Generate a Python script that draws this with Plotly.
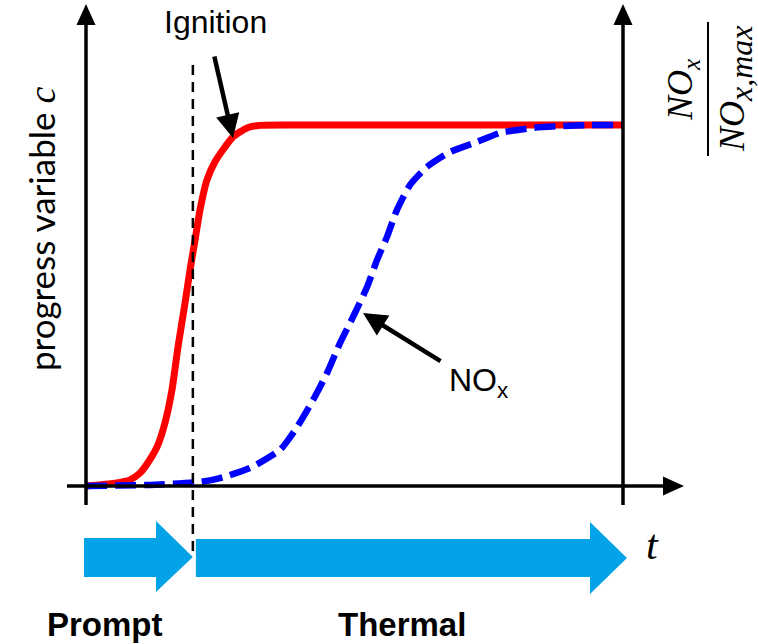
import plotly.graph_objects as go

# ---- data: progress variable c(t) and normalised NOx(t) ----
t_c = [0.0, 0.540, 0.819, 1.006, 1.099, 1.322, 1.471, 1.601, 1.713, 1.844,
       1.937, 2.030, 2.123, 2.253, 2.402, 2.588, 2.737, 2.998, 3.240, 3.985, 10.0]
c_vals = [0.0, 0.008, 0.017, 0.036, 0.053, 0.108, 0.175, 0.266, 0.385, 0.507,
          0.598, 0.681, 0.765, 0.848, 0.898, 0.939, 0.967, 0.992, 0.999, 1.0, 1.0]

t_nox = [0.0, 1.192, 2.123, 2.495, 3.054, 3.613, 3.761, 3.929, 4.227, 4.488,
         4.730, 4.972, 5.233, 5.419, 5.605, 5.791, 6.034, 6.350, 6.778, 7.281,
         7.709, 8.324, 8.827, 9.385, 10.0]
nox_vals = [0.0, 0.003, 0.011, 0.022, 0.050, 0.100, 0.127, 0.163, 0.238, 0.313,
            0.396, 0.468, 0.551, 0.626, 0.690, 0.765, 0.834, 0.884, 0.925, 0.953,
            0.978, 0.992, 0.997, 1.0, 1.0]

T_IGNITION = 1.99   # prompt / thermal boundary
T_END = 10.0

# ---- canvas geometry ----
W, H = 758, 644
T0_PX, T_SCALE = 86, 53.7      # pixel of t=0 and pixels per unit t
C0_PX, C_SCALE = 486, 361      # pixel of c=0 and pixels per unit c


def X(px):
    return (px - T0_PX) / T_SCALE


def Y(py):
    return (C0_PX - py) / C_SCALE


def poly(points):
    return "M " + " L ".join(f"{X(a)},{Y(b)}" for a, b in points) + " Z"


BLACK = "black"
ARROW_BLUE = "#04A3E7"
SANS = "Liberation Sans, Arial, sans-serif"
SERIF = "Liberation Serif, DejaVu Serif, serif"

fig = go.Figure()

fig.add_trace(go.Scatter(
    x=t_c, y=c_vals, mode="lines",
    line=dict(color="#FF0000", width=7, shape="spline", smoothing=0.6),
    hoverinfo="skip"))
fig.add_trace(go.Scatter(
    x=t_nox, y=nox_vals, mode="lines",
    line=dict(color="#0000FF", width=6.5, dash="21px,8px", shape="spline", smoothing=0.6),
    hoverinfo="skip"))

shapes = []
# axes with arrow heads
ax_w = 3.5
for xa in (0.0, T_END):
    px = T0_PX + xa * T_SCALE
    shapes.append(dict(type="line", x0=xa, x1=xa, y0=Y(505), y1=Y(22),
                       line=dict(color=BLACK, width=ax_w)))
    shapes.append(dict(type="path", path=poly([(px, 4), (px - 9.5, 25), (px + 9.5, 25)]),
                       fillcolor=BLACK, line=dict(width=0)))
shapes.append(dict(type="line", x0=X(67), x1=X(665), y0=0, y1=0,
                   line=dict(color=BLACK, width=ax_w)))
shapes.append(dict(type="path", path=poly([(684, C0_PX), (663, C0_PX - 9.5), (663, C0_PX + 9.5)]),
                   fillcolor=BLACK, line=dict(width=0)))

# ignition time marker
shapes.append(dict(type="line", x0=T_IGNITION, x1=T_IGNITION, y0=Y(65), y1=Y(556),
                   line=dict(color=BLACK, width=2.5, dash="10px,7px")))

# prompt / thermal regime arrows
px_ig = T0_PX + T_IGNITION * T_SCALE
shapes.append(dict(type="path", fillcolor=ARROW_BLUE, line=dict(width=0), path=poly([
    (84, 538), (156, 538), (156, 521), (px_ig, 557), (156, 592), (156, 577), (84, 577)])))
shapes.append(dict(type="path", fillcolor=ARROW_BLUE, line=dict(width=0), path=poly([
    (px_ig + 3, 539), (590, 539), (590, 522), (627, 558), (590, 594), (590, 577), (px_ig + 3, 577)])))

# fraction bar of the right-hand label
shapes.append(dict(type="line", x0=X(708), x1=X(708), y0=Y(22), y1=Y(156),
                   line=dict(color=BLACK, width=2)))

annotations = [
    dict(x=X(215), y=Y(22), text="Ignition", showarrow=False,
         font=dict(family=SANS, size=32, color=BLACK)),
    dict(x=X(233), y=Y(138), ax=X(214), ay=Y(55), axref="x", ayref="y",
         text="", showarrow=True, arrowhead=2, arrowsize=1.05, arrowwidth=4.5,
         arrowcolor=BLACK, standoff=0),
    dict(x=X(478), y=Y(382), text="NO<sub>x</sub>", showarrow=False,
         font=dict(family=SANS, size=32, color=BLACK)),
    dict(x=X(363), y=Y(313), ax=X(442), ay=Y(362), axref="x", ayref="y",
         text="", showarrow=True, arrowhead=2, arrowsize=1.05, arrowwidth=4.5,
         arrowcolor=BLACK, standoff=0),
    dict(x=X(41), y=Y(229), textangle=-90,
         text="progress variable <span style='font-family:Liberation Serif;font-size:38px'><i>c</i></span>",
         showarrow=False, font=dict(family="Lato, Open Sans, sans-serif", size=35, color=BLACK)),
    dict(x=X(652), y=Y(545), text="<i>t</i>", showarrow=False,
         font=dict(family=SERIF, size=42, color=BLACK)),
    dict(x=X(105), y=Y(624), text="<b>Prompt</b>", showarrow=False,
         font=dict(family=SANS, size=33, color=BLACK)),
    dict(x=X(402), y=Y(624), text="<b>Thermal</b>", showarrow=False,
         font=dict(family=SANS, size=33, color=BLACK)),
    dict(x=X(682), y=Y(90), textangle=-90, text="<i>NO</i><sub><i>x</i></sub>",
         showarrow=False, font=dict(family=SERIF, size=36, color=BLACK)),
    dict(x=X(735), y=Y(89), textangle=-90,
         text="<i>NO</i><sub><span style='font-size:32px'><i>x,max</i></span></sub>",
         showarrow=False, font=dict(family=SERIF, size=36, color=BLACK)),
]

fig.update_layout(
    width=W, height=H, autosize=False,
    margin=dict(l=0, r=0, t=0, b=0, pad=0),
    paper_bgcolor="white", plot_bgcolor="white",
    showlegend=False,
    xaxis=dict(range=[X(0), X(W)], visible=False, fixedrange=True),
    yaxis=dict(range=[Y(H), Y(0)], visible=False, fixedrange=True),
    shapes=shapes, annotations=annotations,
)

fig.write_html("out.html")
